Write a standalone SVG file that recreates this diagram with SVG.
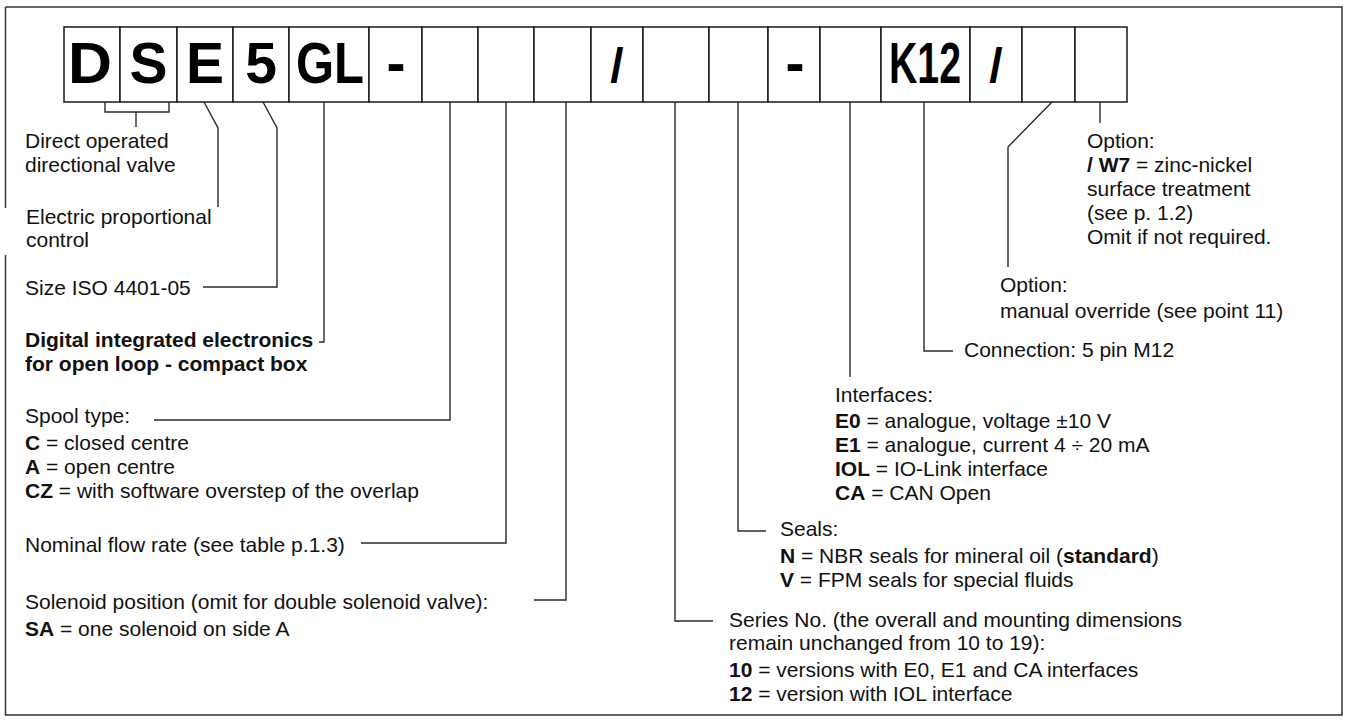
<svg xmlns="http://www.w3.org/2000/svg" width="1346" height="722" viewBox="0 0 1346 722">
<style>
.t{font-family:"Liberation Sans",Arial,sans-serif;font-size:21px;fill:#111}
.b{font-weight:bold}
.big{font-family:"Liberation Sans",Arial,sans-serif;font-size:57px;font-weight:bold;fill:#000;text-anchor:middle}
.box{fill:#fff;stroke:#1a1a1a;stroke-width:1.5}
.c{fill:none;stroke:#2a2a2a;stroke-width:1.4}
</style>
<rect width="1346" height="722" fill="#fff"/>
<path d="M5.5,7 H1342 V715 H5.5 V255 M5.5,208 V7" fill="none" stroke="#333" stroke-width="1.5"/>
<g id="code">
<g id="b1"><rect class="box" x="64" y="27" width="56" height="75"/><text class="big" x="90" y="83" textLength="44" lengthAdjust="spacingAndGlyphs">D</text></g>
<g id="b2"><rect class="box" x="120" y="27" width="57" height="75"/><text class="big" x="148.5" y="83">S</text></g>
<g id="b3"><rect class="box" x="177" y="27" width="56" height="75"/><text class="big" x="205" y="83">E</text></g>
<g id="b4"><rect class="box" x="233" y="27" width="56" height="75"/><text class="big" x="261" y="83">5</text></g>
<g id="b5"><rect class="box" x="289" y="27" width="80" height="75"/><text class="big" x="330" y="83" textLength="68" lengthAdjust="spacingAndGlyphs">GL</text></g>
<g id="b6"><rect class="box" x="369" y="27" width="53" height="75"/><text class="big" x="396" y="83">-</text></g>
<g id="b7"><rect class="box" x="422" y="27" width="56" height="75"/></g>
<g id="b8"><rect class="box" x="478" y="27" width="56" height="75"/></g>
<g id="b9"><rect class="box" x="534" y="27" width="57" height="75"/></g>
<g id="b10"><rect class="box" x="591" y="27" width="52" height="75"/><text class="big" x="617" y="82" style="font-size:48px">/</text></g>
<g id="b11"><rect class="box" x="643" y="27" width="66" height="75"/></g>
<g id="b12"><rect class="box" x="709" y="27" width="59" height="75"/></g>
<g id="b13"><rect class="box" x="768" y="27" width="52" height="75"/><text class="big" x="795" y="83">-</text></g>
<g id="b14"><rect class="box" x="820" y="27" width="61" height="75"/></g>
<g id="b15"><rect class="box" x="881" y="27" width="89" height="75"/><text class="big" transform="translate(925,83) scale(1,1.36)" style="font-size:42px" textLength="72" lengthAdjust="spacingAndGlyphs">K12</text></g>
<g id="b16"><rect class="box" x="970" y="27" width="52" height="75"/><text class="big" x="996" y="82" style="font-size:48px">/</text></g>
<g id="b17"><rect class="box" x="1022" y="27" width="53" height="75"/></g>
<g id="b18"><rect class="box" x="1075" y="27" width="52" height="75"/></g>
</g>
<g id="connectors">
<path class="c" d="M105,102 V112 H169 V102 M136,112 V127"/>
<path class="c" d="M204,102 L218,128 V207"/>
<path class="c" d="M263,102 L277,128 V287 H203"/>
<path class="c" d="M324,102 V342 H319"/>
<path class="c" d="M450,102 V420 H154"/>
<path class="c" d="M506,102 V543 H361"/>
<path class="c" d="M566,102 V600 H534"/>
<path class="c" d="M675,102 V621 H713"/>
<path class="c" d="M738,102 V531 H766"/>
<path class="c" d="M850,102 V377"/>
<path class="c" d="M924,102 V351 H953"/>
<path class="c" d="M1052,102 L1008,147 V267"/>
<path class="c" d="M1100,102 V123"/>
</g>
<g id="l-ds"><text class="t" x="25" y="148">Direct operated</text><text class="t" x="25" y="172">directional valve</text></g>
<g id="l-e"><text class="t" x="26" y="224">Electric proportional</text><text class="t" x="26" y="247">control</text></g>
<g id="l-5"><text class="t" x="25" y="295">Size ISO 4401-05</text></g>
<g id="l-gl"><text class="t b" x="25" y="347">Digital integrated electronics</text><text class="t b" x="25" y="371">for open loop - compact box</text></g>
<g id="l-spool">
<text class="t" x="25" y="423">Spool type:</text>
<text class="t" x="25" y="450"><tspan class="b">C</tspan> = closed centre</text>
<text class="t" x="25" y="474"><tspan class="b">A</tspan> = open centre</text>
<text class="t" x="25" y="498"><tspan class="b">CZ</tspan> = with software overstep of the overlap</text>
</g>
<g id="l-flow"><text class="t" x="25" y="552">Nominal flow rate (see table p.1.3)</text></g>
<g id="l-sol">
<text class="t" x="25" y="609">Solenoid position (omit for double solenoid valve):</text>
<text class="t" x="25" y="636"><tspan class="b">SA</tspan> = one solenoid on side A</text>
</g>
<g id="l-series">
<text class="t" x="729" y="627">Series No. (the overall and mounting dimensions</text>
<text class="t" x="729" y="650">remain unchanged from 10 to 19):</text>
<text class="t" x="729" y="677"><tspan class="b">10</tspan> = versions with E0, E1 and CA interfaces</text>
<text class="t" x="729" y="701"><tspan class="b">12</tspan> = version with IOL interface</text>
</g>
<g id="l-seals">
<text class="t" x="780" y="536">Seals:</text>
<text class="t" x="780" y="563"><tspan class="b">N</tspan> = NBR seals for mineral oil (<tspan class="b">standard</tspan>)</text>
<text class="t" x="780" y="587"><tspan class="b">V</tspan> = FPM seals for special fluids</text>
</g>
<g id="l-if">
<text class="t" x="835" y="402">Interfaces:</text>
<text class="t" x="835" y="428"><tspan class="b">E0</tspan> = analogue, voltage ±10 V</text>
<text class="t" x="835" y="452"><tspan class="b">E1</tspan> = analogue, current 4 ÷ 20 mA</text>
<text class="t" x="835" y="476"><tspan class="b">IOL</tspan> = IO-Link interface</text>
<text class="t" x="835" y="500"><tspan class="b">CA</tspan> = CAN Open</text>
</g>
<g id="l-conn"><text class="t" x="964" y="357">Connection: 5 pin M12</text></g>
<g id="l-man">
<text class="t" x="1000" y="292">Option:</text>
<text class="t" x="1000" y="318">manual override (see point 11)</text>
</g>
<g id="l-w7">
<text class="t" x="1087" y="148">Option:</text>
<text class="t" x="1087" y="172"><tspan class="b">/ W7</tspan> = zinc-nickel</text>
<text class="t" x="1087" y="196">surface treatment</text>
<text class="t" x="1087" y="220">(see p. 1.2)</text>
<text class="t" x="1087" y="244">Omit if not required.</text>
</g>
</svg>
